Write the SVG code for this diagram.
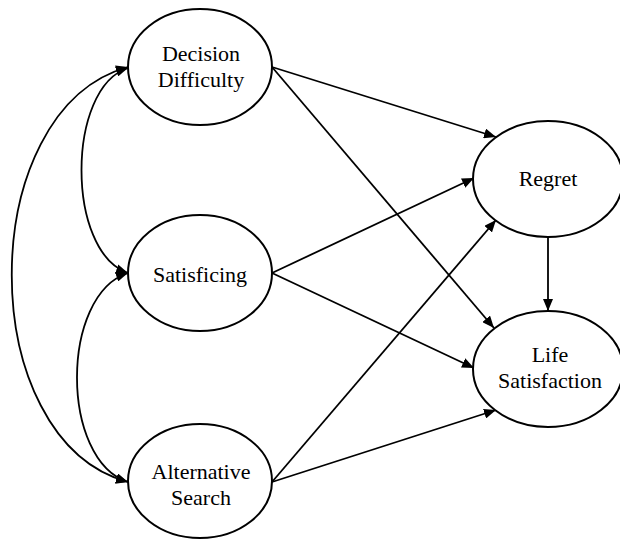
<svg xmlns="http://www.w3.org/2000/svg" width="620" height="539" viewBox="0 0 620 539" font-family="Liberation Serif, Times New Roman, serif">
<style>
.node{fill:#fff;stroke:#000;stroke-width:2}
.lbl{font-family:"Liberation Serif","Times New Roman",serif;font-size:22px;fill:#000;text-anchor:middle}
.edge{fill:none;stroke:#000;stroke-width:1.8}
</style>
<defs>
<marker id="ah" viewBox="0 0 12 10" refX="12" refY="5" markerWidth="12" markerHeight="10" markerUnits="userSpaceOnUse" orient="auto-start-reverse">
<path d="M0,0 L12,5 L0,10 z" fill="#000"/>
</marker>
</defs>
<rect width="620" height="539" fill="#fff"/>
<g id="connectors">
<path class="edge" d="M128,68 C66,88 66,252 128,273" marker-start="url(#ah)" marker-end="url(#ah)"/>
<path class="edge" d="M128,273 C60,295 60,460 128,482" marker-start="url(#ah)" marker-end="url(#ah)"/>
<path class="edge" d="M128,67 C-27,110 -27,440 128,482" marker-start="url(#ah)" marker-end="url(#ah)"/>
<line class="edge" x1="272" y1="67" x2="496" y2="137" marker-end="url(#ah)"/>
<line class="edge" x1="272" y1="67" x2="494" y2="328" marker-end="url(#ah)"/>
<line class="edge" x1="272" y1="273" x2="474" y2="178" marker-end="url(#ah)"/>
<line class="edge" x1="272" y1="273" x2="474" y2="368" marker-end="url(#ah)"/>
<line class="edge" x1="272" y1="482" x2="496" y2="220" marker-end="url(#ah)"/>
<line class="edge" x1="272" y1="482" x2="496" y2="410" marker-end="url(#ah)"/>
<line class="edge" x1="548" y1="237" x2="548" y2="311" marker-end="url(#ah)"/>
</g>
<g id="decision-difficulty">
<ellipse class="node" cx="200" cy="67" rx="72" ry="58"/>
<text class="lbl" x="201" y="61">Decision</text>
<text class="lbl" x="201" y="87">Difficulty</text>
</g>
<g id="satisficing">
<ellipse class="node" cx="200" cy="273" rx="72" ry="58"/>
<text class="lbl" x="200" y="282">Satisficing</text>
</g>
<g id="alternative-search">
<ellipse class="node" cx="200" cy="481" rx="72" ry="57"/>
<text class="lbl" x="201" y="479">Alternative</text>
<text class="lbl" x="201" y="505">Search</text>
</g>
<g id="regret">
<ellipse class="node" cx="548" cy="179" rx="75" ry="58"/>
<text class="lbl" x="548" y="186">Regret</text>
</g>
<g id="life-satisfaction">
<ellipse class="node" cx="548" cy="369" rx="75" ry="58"/>
<text class="lbl" x="550" y="362">Life</text>
<text class="lbl" x="550" y="388">Satisfaction</text>
</g>
</svg>
